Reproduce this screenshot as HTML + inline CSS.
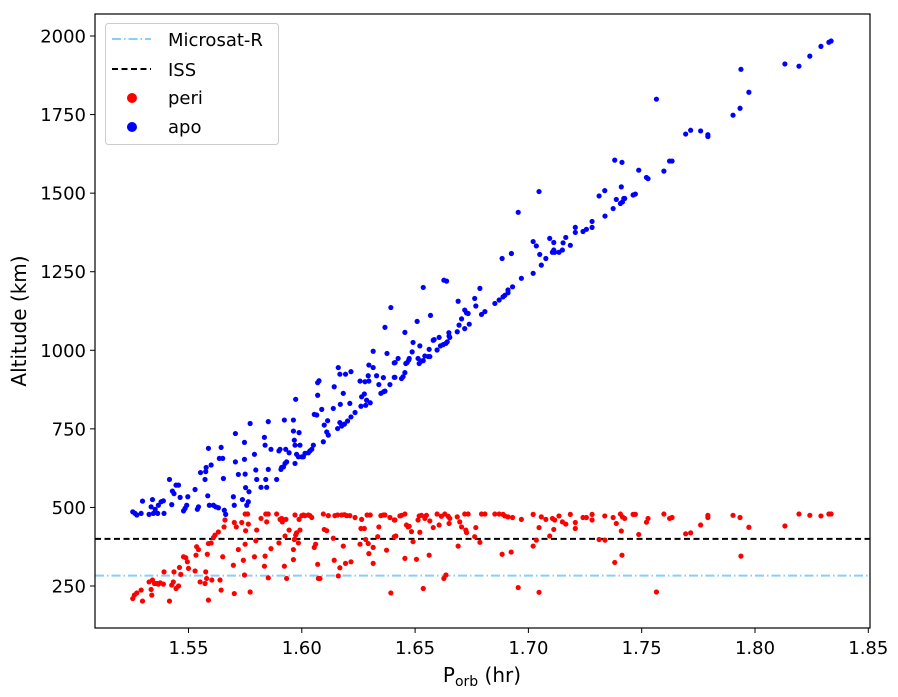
<!DOCTYPE html>
<html><head><meta charset="utf-8"><style>
html,body{margin:0;padding:0;background:#fff;}
svg{display:block;font-family:"DejaVu Sans","Liberation Sans",sans-serif;}
</style></head><body>
<svg id="chart" width="898" height="697" viewBox="0 0 898 697" xmlns="http://www.w3.org/2000/svg">
<rect width="898" height="697" fill="#fff"/>
<g id="plot"></g>
<g id="axes"></g>
<g id="legend">
  <rect x="105.5" y="23.5" width="173" height="121" rx="3" fill="#fff" fill-opacity="0.8" stroke="#cccccc" stroke-width="1"/>
  <line x1="112" y1="39" x2="151" y2="39" stroke="#87cefa" stroke-width="2" stroke-dasharray="9,3,1.5,3"/>
  <text x="168" y="46" font-size="18">Microsat-R</text>
  <line x1="112" y1="69" x2="151" y2="69" stroke="#000" stroke-width="2" stroke-dasharray="6,3.5"/>
  <text x="168" y="76" font-size="18">ISS</text>
  <circle cx="132" cy="98" r="5" fill="#ff0000"/>
  <text x="168" y="104" font-size="18">peri</text>
  <circle cx="132" cy="127" r="5" fill="#0000ff"/>
  <text x="168" y="133" font-size="18">apo</text>
</g>
</svg>
<script>
const xTicks = [1.55, 1.60, 1.65, 1.70, 1.75, 1.80, 1.85];
const xTickLabels = ["1.55","1.60","1.65","1.70","1.75","1.80","1.85"];
const yTicks = [250, 500, 750, 1000, 1250, 1500, 1750, 2000];
const yTickLabels = ["250","500","750","1000","1250","1500","1750","2000"];
const issAltitude = 400;
const microsatAltitude = 283;
const apoData = [
[1.5254,486],[1.5264,481],[1.5272,476],[1.5291,481],[1.5297,520],[1.5326,478],[1.5335,502],[1.5341,525],[1.5345,481],[1.5353,494],[1.5364,481],[1.5367,507],[1.5379,518],[1.5389,521],[1.5392,481],[1.5416,589],[1.5426,509],[1.5429,552],[1.5436,544],[1.5445,571],[1.5456,571],[1.5463,532],[1.5478,489],[1.5485,497],[1.5497,534],[1.5492,507],[1.5529,557],[1.5539,494],[1.5544,502],[1.5553,611],[1.5573,589],[1.5576,614],[1.5578,627],[1.5585,537],[1.5588,688],[1.5592,507],[1.5600,635],[1.5610,507],[1.5620,502],[1.5632,499],[1.5636,656],[1.5644,691],[1.5651,656],[1.5654,592],[1.5658,491],[1.5664,478],[1.5698,534],[1.5702,507],[1.5707,735],[1.5707,645],[1.5720,605],[1.5738,525],[1.5747,707],[1.5747,653],[1.5750,606],[1.5752,563],[1.5757,507],[1.5764,518],[1.5767,550],[1.5772,767],[1.5791,669],[1.5797,619],[1.5801,589],[1.5820,564],[1.5835,723],[1.5838,698],[1.5841,589],[1.5845,564],[1.5852,773],[1.5852,621],[1.5864,685],[1.5889,589],[1.5899,680],[1.5904,685],[1.5908,621],[1.5911,627],[1.5919,629],[1.5923,778],[1.5926,640],[1.5929,685],[1.5933,645],[1.5944,674],[1.5963,778],[1.5963,743],[1.5967,714],[1.5970,698],[1.5970,640],[1.5973,844],[1.5977,669],[1.5985,661],[1.5988,738],[1.5992,698],[1.6000,661],[1.6007,661],[1.6014,672],[1.6029,674],[1.6036,680],[1.6044,685],[1.6051,698],[1.6055,796],[1.6066,794],[1.6070,857],[1.6070,897],[1.6076,903],[1.6088,812],[1.6095,709],[1.6099,762],[1.6110,740],[1.6114,776],[1.6117,730],[1.6139,815],[1.6143,884],[1.6158,751],[1.6161,945],[1.6168,770],[1.6168,924],[1.6170,828],[1.6176,759],[1.6183,863],[1.6188,765],[1.6193,924],[1.6202,775],[1.6212,831],[1.6217,932],[1.6217,788],[1.6235,802],[1.6257,902],[1.6261,822],[1.6264,852],[1.6276,861],[1.6279,900],[1.6282,825],[1.6286,841],[1.6293,919],[1.6296,902],[1.6296,953],[1.6302,833],[1.6315,945],[1.6315,997],[1.6330,919],[1.6340,891],[1.6349,863],[1.6360,913],[1.6361,868],[1.6367,870],[1.6367,1073],[1.6376,990],[1.6389,891],[1.6393,1136],[1.6408,914],[1.6408,960],
[1.6411,914],[1.6412,961],[1.6425,974],[1.6440,910],[1.6447,916],[1.6455,1057],[1.6455,929],[1.6459,958],[1.6465,961],[1.6472,969],[1.6474,974],[1.6487,995],[1.6491,1025],[1.6509,1092],[1.6513,974],[1.6518,958],[1.6521,1014],[1.6528,966],[1.6536,1200],[1.6536,967],[1.6543,982],[1.6558,980],[1.6562,1003],[1.6565,980],[1.6568,1111],[1.6580,1032],[1.6584,1034],[1.6597,1001],[1.6606,1041],[1.6612,1014],[1.6624,1018],[1.6627,1223],[1.6636,1022],[1.6639,1220],[1.6642,1027],[1.6649,1056],[1.6650,1045],[1.6653,1041],[1.6686,1059],[1.6690,1156],[1.6694,1080],[1.6705,1100],[1.6719,1069],[1.6719,1128],[1.6727,1119],[1.6734,1117],[1.6739,1083],[1.6763,1165],[1.6768,1141],[1.6786,1197],[1.6793,1114],[1.6808,1123],[1.6852,1149],[1.6871,1160],[1.6884,1292],[1.6888,1170],[1.6896,1175],[1.6910,1192],[1.6910,1183],[1.6925,1308],[1.6930,1202],[1.6955,1439],[1.6969,1229],[1.7021,1245],[1.7021,1346],[1.7035,1332],[1.7047,1505],[1.7050,1305],[1.7057,1271],[1.7077,1292],[1.7094,1356],[1.7106,1312],[1.7112,1343],[1.7112,1319],[1.7116,1312],[1.7135,1312],[1.7150,1319],[1.7153,1342],[1.7165,1359],[1.7185,1334],[1.7207,1391],[1.7207,1375],[1.7241,1378],[1.7256,1385],[1.7281,1410],[1.7281,1391],[1.7312,1491],[1.7337,1508],[1.7338,1427],[1.7374,1451],[1.7381,1605],[1.7388,1480],[1.7406,1467],[1.7410,1520],[1.7413,1598],[1.7415,1472],[1.7421,1483],[1.7425,1483],[1.7462,1494],[1.7472,1497],[1.7487,1573],
[1.7521,1550],[1.7528,1546],[1.7565,1799],[1.7598,1570],[1.7623,1602],[1.7634,1602],[1.7694,1688],[1.7716,1700],[1.7760,1698],[1.7792,1686],[1.7792,1680],[1.7903,1748],[1.7934,1770],[1.7938,1894],[1.7973,1821],[1.8132,1911],[1.8194,1904],[1.8242,1936],[1.8291,1967],[1.8326,1980],[1.8336,1984]
];
const periData = [
[1.5254,210],[1.5261,221],[1.5272,228],[1.5291,237],[1.5297,202],[1.5326,263],[1.5335,239],[1.5338,221],[1.5341,269],[1.5350,258],[1.5360,258],[1.5367,256],[1.5375,260],[1.5389,256],[1.5392,295],[1.5416,202],[1.5426,253],[1.5433,263],[1.5436,295],[1.5445,242],[1.5456,250],[1.5460,309],[1.5466,287],[1.5478,343],[1.5488,340],[1.5495,327],[1.5500,306],[1.5529,298],[1.5533,348],[1.5536,375],[1.5544,366],[1.5551,263],[1.5573,258],[1.5576,295],[1.5580,274],[1.5583,351],[1.5588,205],[1.5588,385],[1.5600,387],[1.5603,269],[1.5610,404],[1.5617,412],[1.5632,422],[1.5639,269],[1.5644,237],[1.5651,343],[1.5657,438],[1.5661,460],[1.5698,316],[1.5702,226],[1.5702,452],[1.5711,438],[1.5720,366],[1.5735,452],[1.5742,332],[1.5747,285],[1.5750,479],[1.5750,383],[1.5752,426],[1.5761,479],[1.5764,447],[1.5772,231],[1.5791,343],[1.5797,394],[1.5801,428],[1.5820,465],[1.5835,313],[1.5838,345],[1.5841,479],[1.5845,454],[1.5852,479],[1.5852,276],[1.5864,369],[1.5889,479],[1.5899,387],[1.5904,462],[1.5911,465],[1.5914,454],[1.5923,313],[1.5926,409],[1.5930,462],[1.5933,274],[1.5944,428],[1.5963,366],[1.5963,334],[1.5967,398],[1.5970,476],[1.5973,412],[1.5977,419],[1.5985,387],[1.5988,462],[1.5992,428],[1.6000,474],[1.6007,476],[1.6014,474],[1.6029,476],[1.6036,474],[1.6044,468],[1.6055,373],[1.6061,383],[1.6070,319],[1.6073,274],[1.6080,274],[1.6095,479],[1.6099,430],[1.6110,426],[1.6117,474],[1.6139,402],[1.6143,332],[1.6146,474],[1.6158,476],[1.6161,282],[1.6168,308],[1.6176,476],[1.6183,377],[1.6188,477],[1.6193,322],[1.6198,474],[1.6212,474],[1.6217,327],[1.6235,468],[1.6257,383],[1.6261,433],[1.6264,462],[1.6276,433],[1.6282,398],[1.6288,476],[1.6293,385],[1.6296,353],[1.6302,476],[1.6315,373],[1.6315,322],[1.6335,407],[1.6340,438],[1.6349,474],[1.6360,476],[1.6367,476],[1.6374,364],[1.6389,468],[1.6393,228],[1.6408,460],[1.6408,407],
[1.6411,460],[1.6415,409],[1.6433,473],[1.6440,475],[1.6455,338],[1.6455,479],[1.6462,444],[1.6469,438],[1.6474,440],[1.6484,423],[1.6491,391],[1.6506,335],[1.6513,460],[1.6518,473],[1.6521,421],[1.6528,475],[1.6536,242],[1.6543,465],[1.6550,475],[1.6562,348],[1.6565,457],[1.6580,436],[1.6597,479],[1.6606,444],[1.6616,472],[1.6627,274],[1.6631,479],[1.6636,285],[1.6646,472],[1.6650,449],[1.6653,465],[1.6686,470],[1.6690,377],[1.6697,454],[1.6705,438],[1.6719,479],[1.6724,428],[1.6727,420],[1.6734,479],[1.6763,407],[1.6768,436],[1.6786,389],[1.6793,479],[1.6808,479],[1.6852,479],[1.6871,479],[1.6884,351],[1.6888,478],[1.6896,473],[1.6910,470],[1.6924,358],[1.6930,468],[1.6955,245],[1.6969,462],[1.7021,478],[1.7021,377],[1.7035,396],[1.7047,436],[1.7047,230],[1.7057,470],[1.7077,462],[1.7094,409],[1.7106,465],[1.7112,430],[1.7116,460],[1.7135,473],[1.7150,454],[1.7165,447],[1.7185,478],[1.7207,452],[1.7207,433],[1.7241,468],[1.7256,468],[1.7281,478],[1.7281,460],[1.7312,398],[1.7337,473],[1.7338,396],[1.7374,468],[1.7381,325],[1.7388,449],[1.7406,479],[1.7410,425],[1.7413,348],[1.7415,470],[1.7425,465],[1.7462,478],[1.7472,478],[1.7487,414],
[1.7521,453],[1.7528,465],[1.7565,231],[1.7598,479],[1.7623,465],[1.7634,468],[1.7694,416],[1.7716,419],[1.7760,444],[1.7792,475],[1.7792,468],[1.7903,475],[1.7934,468],[1.7938,345],[1.7973,437],[1.8132,441],[1.8194,479],[1.8242,475],[1.8291,473],[1.8326,479],[1.8336,479]
];

const NS = "http://www.w3.org/2000/svg";
const L = 95, R = 870, T = 14, B = 628;
function xScale(p){ return 188.5 + (p - 1.55) / 0.05 * 113.3; }
function yScale(a){ return 36 + (2000 - a) * 0.31429; }
function mk(tag, attrs, parent){
  const el = document.createElementNS(NS, tag);
  for (const k in attrs) el.setAttribute(k, attrs[k]);
  parent.appendChild(el);
  return el;
}
const plot = document.getElementById('plot');
const axes = document.getElementById('axes');

const micro = mk('line', {x1:L, x2:R, y1:yScale(microsatAltitude), y2:yScale(microsatAltitude), stroke:'#87cefa', 'stroke-width':2, 'stroke-dasharray':'9,3,1.5,3'}, plot);


const iss = mk('line', {x1:L, x2:R, y1:yScale(issAltitude), y2:yScale(issAltitude), stroke:'#000', 'stroke-width':2, 'stroke-dasharray':'6,3.5'}, plot);



periData.forEach(function(d){
  const c = mk('circle', {cx:xScale(d[0]), cy:yScale(d[1]), r:2.6, fill:'#ff0000'}, plot);
  
  
});
apoData.forEach(function(d){
  const c = mk('circle', {cx:xScale(d[0]), cy:yScale(d[1]), r:2.6, fill:'#0000ff'}, plot);
  
  
});

const frame = mk('rect', {x:L, y:T, width:R-L, height:B-T, fill:'none', stroke:'#000', 'stroke-width':1.2}, axes);



xTicks.forEach(function(v, i){
  const x = xScale(v);
  const t = mk('line', {x1:x, x2:x, y1:B, y2:B+5, stroke:'#000', 'stroke-width':1}, axes);
  
  
  const lb = mk('text', {x:x, y:B+26, 'text-anchor':'middle', 'font-size':18}, axes);
  lb.textContent = xTickLabels[i];
  
  
});
yTicks.forEach(function(v, i){
  const y = yScale(v);
  const t = mk('line', {x1:L-5, x2:L, y1:y, y2:y, stroke:'#000', 'stroke-width':1}, axes);
  
  
  const lb = mk('text', {x:L-9, y:y+6.5, 'text-anchor':'end', 'font-size':18}, axes);
  lb.textContent = yTickLabels[i];
  
  
});

const xt = mk('text', {x:482, y:682, 'text-anchor':'middle', 'font-size':20}, axes);


xt.appendChild(document.createTextNode('P'));
const sub = mk('tspan', {'font-size':14, dy:4}, xt);
sub.textContent = 'orb';
const rest = mk('tspan', {dy:-4}, xt);
rest.textContent = ' (hr)';

const yt = mk('text', {x:0, y:0, 'text-anchor':'middle', 'font-size':20, transform:'translate(26,321) rotate(-90)'}, axes);
yt.textContent = 'Altitude (km)';


</script>
</body></html>
